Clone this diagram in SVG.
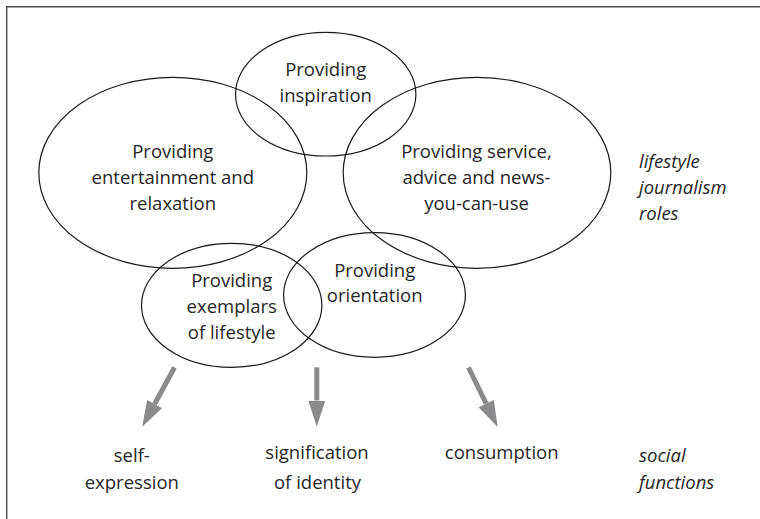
<svg xmlns="http://www.w3.org/2000/svg" width="760" height="519" viewBox="0 0 760 519">
  <style>
    .role { fill: none; stroke: #1a1a1a; stroke-width: 1.2; }
    .lbl { font-family: "Open Sans", "Liberation Sans", sans-serif; font-size: 18.5px; fill: #262626; text-anchor: middle; }
    .side { font-family: "Open Sans", "Liberation Sans", sans-serif; font-size: 18.5px; font-style: italic; fill: #262626; }
    .fn { font-family: "Open Sans", "Liberation Sans", sans-serif; font-size: 18.5px; fill: #262626; text-anchor: middle; }
    .arrow { stroke: #8a8a8c; stroke-width: 5; fill: none; }
  </style>
  <defs>
    <marker id="head" markerUnits="userSpaceOnUse" markerWidth="27" markerHeight="17" refX="0" refY="8.5" orient="auto">
      <path d="M0,0 L26,8.5 L0,17 z" fill="#8a8a8c"/>
    </marker>
  </defs>

  <rect width="760" height="519" fill="#ffffff"/>
  <!-- frame (top and left edges) -->
  <path d="M6.7,519 V6.7 H760" fill="none" stroke="#4a4a4a" stroke-width="1.4"/>

  <g id="inspiration">
    <ellipse class="role" cx="325.7" cy="94.2" rx="90.2" ry="61.8"/>
    <text class="lbl" x="325.7" y="76">Providing</text>
    <text class="lbl" x="325.7" y="102">inspiration</text>
  </g>

  <g id="entertainment">
    <ellipse class="role" cx="172.8" cy="172.8" rx="134" ry="95.5"/>
    <text class="lbl" x="172.8" y="157.5">Providing</text>
    <text class="lbl" x="172.8" y="183.5">entertainment and</text>
    <text class="lbl" x="172.8" y="209.5">relaxation</text>
  </g>

  <g id="service">
    <ellipse class="role" cx="477" cy="172.8" rx="133.8" ry="95.5"/>
    <text class="lbl" x="476.5" y="157.5">Providing service,</text>
    <text class="lbl" x="476.5" y="183.5">advice and news-</text>
    <text class="lbl" x="476.5" y="209.5">you-can-use</text>
  </g>

  <g id="exemplars">
    <ellipse class="role" cx="231.7" cy="305.3" rx="90.2" ry="62"/>
    <text class="lbl" x="231.7" y="286.7">Providing</text>
    <text class="lbl" x="231.7" y="312.5">exemplars</text>
    <text class="lbl" x="231.7" y="338.5">of lifestyle</text>
  </g>

  <g id="orientation">
    <ellipse class="role" cx="374.5" cy="295" rx="90.9" ry="62.3"/>
    <text class="lbl" x="374.7" y="276.7">Providing</text>
    <text class="lbl" x="374.7" y="302.2">orientation</text>
  </g>

  <g id="roles-label">
    <text class="side" x="639" y="167.5">lifestyle</text>
    <text class="side" x="639" y="193.5">journalism</text>
    <text class="side" x="639" y="219.5">roles</text>
  </g>

  <g id="connectors">
    <line class="arrow" x1="174.5" y1="367.5" x2="154.6" y2="404" marker-end="url(#head)"/>
    <line class="arrow" x1="316.8" y1="367.3" x2="316.8" y2="400.5" marker-end="url(#head)"/>
    <line class="arrow" x1="468.5" y1="367.5" x2="486.2" y2="403.6" marker-end="url(#head)"/>
  </g>

  <g id="self-expression">
    <text class="fn" x="131.8" y="461.7">self-</text>
    <text class="fn" x="131.8" y="489.3">expression</text>
  </g>

  <g id="signification">
    <text class="fn" x="317" y="459.3">signification</text>
    <text class="fn" x="317.5" y="488.5">of identity</text>
  </g>

  <g id="consumption">
    <text class="fn" x="501.7" y="459.3">consumption</text>
  </g>

  <g id="functions-label">
    <text class="side" x="639" y="461.5">social</text>
    <text class="side" x="639" y="488.5">functions</text>
  </g>
</svg>
